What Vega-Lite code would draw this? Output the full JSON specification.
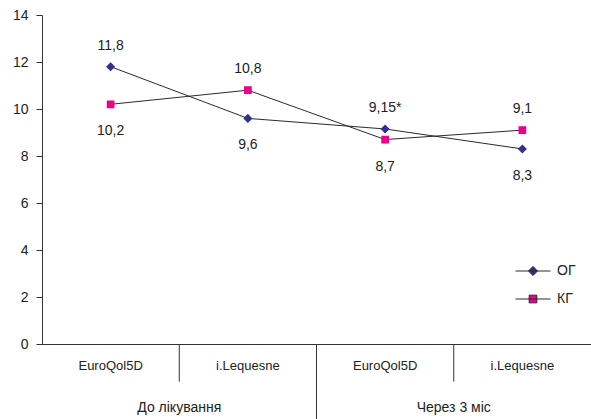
{
  "$schema": "https://vega.github.io/schema/vega-lite/v6.json",
  "width": 549,
  "height": 329,
  "autosize": "none",
  "padding": {"left": 42, "top": 15, "right": 0, "bottom": 75},
  "background": "white",
  "config": {
    "view": {"stroke": null},
    "font": "Liberation Sans",
    "axis": {
      "labelFont": "Liberation Sans",
      "labelColor": "#222",
      "domainColor": "#333",
      "tickColor": "#333",
      "grid": false
    }
  },
  "datasets": {
    "scores": [
      {"cat": "До лікування|EuroQol5D", "series": "ОГ", "value": 11.8, "label": "11,8"},
      {"cat": "До лікування|i.Lequesne", "series": "ОГ", "value": 9.6, "label": "9,6"},
      {"cat": "Через 3 міс|EuroQol5D", "series": "ОГ", "value": 9.15, "label": "9,15*"},
      {"cat": "Через 3 міс|i.Lequesne", "series": "ОГ", "value": 8.3, "label": "8,3"},
      {"cat": "До лікування|EuroQol5D", "series": "КГ", "value": 10.2, "label": "10,2"},
      {"cat": "До лікування|i.Lequesne", "series": "КГ", "value": 10.8, "label": "10,8"},
      {"cat": "Через 3 міс|EuroQol5D", "series": "КГ", "value": 8.7, "label": "8,7"},
      {"cat": "Через 3 міс|i.Lequesne", "series": "КГ", "value": 9.1, "label": "9,1"}
    ],
    "periods": [
      {"period": "До лікування"},
      {"period": "Через 3 міс"}
    ],
    "inner_dividers": [
      {"cat": "До лікування|i.Lequesne"},
      {"cat": "Через 3 міс|i.Lequesne"}
    ],
    "period_divider": [
      {"cat": "Через 3 міс|EuroQol5D"}
    ]
  },
  "layer": [
    {
      "layer": [
        {
          "data": {"name": "scores"},
          "mark": {"type": "line", "color": "#2a2a2a", "strokeWidth": 1},
          "encoding": {
            "x": {
              "field": "cat",
              "type": "nominal",
              "sort": null,
              "scale": {
                "type": "band",
                "domain": ["До лікування|EuroQol5D", "До лікування|i.Lequesne", "Через 3 міс|EuroQol5D", "Через 3 міс|i.Lequesne"],
                "paddingInner": 0,
                "paddingOuter": 0
              },
              "axis": {
                "title": null,
                "ticks": false,
                "labelAngle": 0,
                "labelFontSize": 13,
                "labelPadding": 15,
                "labelExpr": "split(datum.label, '|')[1]"
              }
            },
            "y": {
              "field": "value",
              "type": "quantitative",
              "scale": {"domain": [0, 14], "nice": false},
              "axis": {
                "title": null,
                "values": [0, 2, 4, 6, 8, 10, 12, 14],
                "tickSize": 6,
                "labelPadding": 8,
                "labelFontSize": 14
              }
            },
            "detail": {"field": "series"}
          }
        },
        {
          "data": {"name": "scores"},
          "mark": {"type": "point", "filled": true, "opacity": 1, "size": 1225, "strokeWidth": 0},
          "encoding": {
            "x": {"field": "cat", "type": "nominal", "sort": null},
            "y": {"field": "value", "type": "quantitative"},
            "color": {
              "field": "series",
              "type": "nominal",
              "scale": {"domain": ["ОГ", "КГ"], "range": ["#2e3192", "#ec008c"]},
              "legend": {
                "title": null,
                "orient": "none",
                "legendX": 473,
                "legendY": 238,
                "padding": 0,
                "symbolSize": 1225,
                "symbolStrokeColor": "#2a2a2a",
                "symbolStrokeWidth": 1,
                "labelFontSize": 14,
                "labelFont": "Liberation Sans",
                "labelColor": "#222",
                "labelOffset": 6,
                "rowPadding": 3
              }
            },
            "shape": {
              "field": "series",
              "type": "nominal",
              "scale": {
                "domain": ["ОГ", "КГ"],
                "range": [
                  "M-1,0H1M0,-0.26L0.26,0L0,0.26L-0.26,0Z",
                  "M-1,0H1M-0.22,-0.22H0.22V0.22H-0.22Z"
                ]
              },
              "legend": null
            }
          }
        },
        {
          "data": {"name": "scores"},
          "transform": [
            {"joinaggregate": [{"op": "max", "field": "value", "as": "top"}], "groupby": ["cat"]},
            {"filter": "datum.value === datum.top"}
          ],
          "mark": {"type": "text", "fontSize": 14, "color": "#222", "dy": -21, "baseline": "middle"},
          "encoding": {
            "x": {"field": "cat", "type": "nominal", "sort": null},
            "y": {"field": "value", "type": "quantitative"},
            "text": {"field": "label"}
          }
        },
        {
          "data": {"name": "scores"},
          "transform": [
            {"joinaggregate": [{"op": "max", "field": "value", "as": "top"}], "groupby": ["cat"]},
            {"filter": "datum.value < datum.top"}
          ],
          "mark": {"type": "text", "fontSize": 14, "color": "#222", "dy": 27, "baseline": "middle"},
          "encoding": {
            "x": {"field": "cat", "type": "nominal", "sort": null},
            "y": {"field": "value", "type": "quantitative"},
            "text": {"field": "label"}
          }
        },
        {
          "data": {"name": "inner_dividers"},
          "mark": {"type": "rule", "color": "#333", "strokeWidth": 1, "clip": false},
          "encoding": {
            "x": {"field": "cat", "type": "nominal", "sort": null, "bandPosition": 0},
            "y": {"datum": 0, "type": "quantitative"},
            "y2": {"datum": -1.6}
          }
        },
        {
          "data": {"name": "period_divider"},
          "mark": {"type": "rule", "color": "#333", "strokeWidth": 1, "clip": false},
          "encoding": {
            "x": {"field": "cat", "type": "nominal", "sort": null, "bandPosition": 0},
            "y": {"datum": 0, "type": "quantitative"},
            "y2": {"datum": -3.3}
          }
        }
      ]
    },
    {
      "data": {"name": "periods"},
      "mark": {"type": "text", "fontSize": 14, "color": "#222", "baseline": "middle", "clip": false},
      "encoding": {
        "x": {
          "field": "period",
          "type": "nominal",
          "scale": {"type": "band", "domain": ["До лікування", "Через 3 міс"], "paddingInner": 0, "paddingOuter": 0},
          "axis": null
        },
        "y": {"datum": -2.73, "type": "quantitative"},
        "text": {"field": "period"}
      }
    }
  ],
  "resolve": {"scale": {"x": "independent"}}
}
